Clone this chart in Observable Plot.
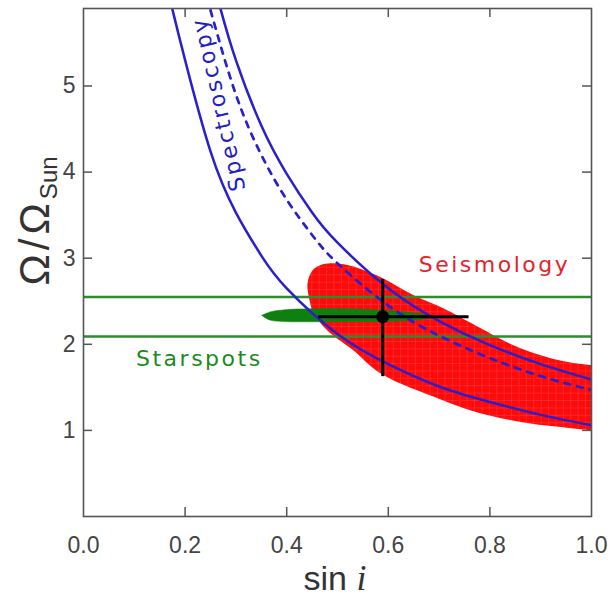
<!DOCTYPE html>
<html><head><meta charset="utf-8">
<script src="https://cdn.jsdelivr.net/npm/d3@7"></script>
<script src="https://cdn.jsdelivr.net/npm/@observablehq/plot@0.6"></script>
<style>body{margin:0;background:#fff;}</style>
</head><body><div id="chart"></div>
<script>
// ---- data ----
const xTicks = [0.0, 0.2, 0.4, 0.6, 0.8, 1.0];
const xTickLabels = ["0.0", "0.2", "0.4", "0.6", "0.8", "1.0"];
const yTicks = [1, 2, 3, 4, 5];
const yTickLabels = ["1", "2", "3", "4", "5"];

// Spectroscopy: upper bound, best value (dashed), lower bound
const specUpperSinI = [0.27, 0.30, 0.35, 0.40, 0.45, 0.50, 0.60, 0.70, 0.80, 0.90, 1.00];
const specUpperOmega = [5.89, 5.30, 4.54, 3.98, 3.53, 3.18, 2.65, 2.27, 1.99, 1.77, 1.59];
const specMidSinI = [0.25, 0.30, 0.35, 0.40, 0.45, 0.50, 0.60, 0.70, 0.80, 0.90, 1.00];
const specMidOmega = [5.88, 4.90, 4.20, 3.68, 3.27, 2.94, 2.45, 2.10, 1.84, 1.63, 1.47];
const specLowerSinI = [0.175, 0.20, 0.25, 0.30, 0.35, 0.40, 0.50, 0.60, 0.70, 0.80, 0.90, 1.00];
const specLowerOmega = [5.89, 5.30, 4.24, 3.53, 3.03, 2.65, 2.12, 1.77, 1.51, 1.33, 1.18, 1.06];

// Starspots band
const spotLow = 2.09, spotHigh = 2.55;
// Starspots joint region (green blob): x, bottom edge, top edge
const blobSinI = [0.352, 0.368, 0.398, 0.447, 0.526, 0.604, 0.663, 0.693];
const blobOmegaLow = [2.33, 2.275, 2.258, 2.256, 2.256, 2.262, 2.28, 2.31];
const blobOmegaHigh = [2.33, 2.37, 2.395, 2.407, 2.407, 2.384, 2.35, 2.31];

// Seismology region (red), outline from bottom-right corner, along bottom, round left, along top
const seisSinI = [1.0, 0.940, 0.880, 0.781, 0.703, 0.585, 0.531, 0.480, 0.453, 0.445,
                  0.441, 0.451, 0.467, 0.486, 0.520, 0.585, 0.650, 0.708, 0.781, 0.846, 0.913, 0.959, 1.0];
const seisOmega = [1.00, 1.04, 1.08, 1.20, 1.36, 1.66, 1.93, 2.16, 2.36, 2.51,
                   2.71, 2.86, 2.92, 2.94, 2.92, 2.78, 2.57, 2.42, 2.19, 1.99, 1.85, 1.79, 1.76];

// Combined estimate with error bars
const bestSinI = 0.589, bestSinILo = 0.462, bestSinIHi = 0.758;
const bestOmega = 2.32, bestOmegaLo = 1.63, bestOmegaHi = 2.76;

// Labels
const labelNames = ["Spectroscopy", "Seismology", "Starspots"];
const labelSinI = [0.266, 0.809, 0.228];
const labelOmega = [4.79, 2.92, 1.83];

// ---- build tables ----
const zip = (xs, ys) => xs.map((x, i) => ({s: x, o: ys[i]}));
const specUpper = zip(specUpperSinI, specUpperOmega);
const specMid = zip(specMidSinI, specMidOmega);
const specLower = zip(specLowerSinI, specLowerOmega);
const blob = blobSinI.map((s, i) => ({s, lo: blobOmegaLow[i], hi: blobOmegaHigh[i]}));
const seis = zip(seisSinI, seisOmega);
const best = [{s: bestSinI, slo: bestSinILo, shi: bestSinIHi, o: bestOmega, olo: bestOmegaLo, ohi: bestOmegaHi}];
const labels = labelNames.map((t, i) => ({t, s: labelSinI[i], o: labelOmega[i]}));

const W = 611, H = 602;
const mL = 83, mR = 20, mT = 8, mB = 86;
const fw = W - mL - mR, fh = H - mT - mB;
const axisCol = "#555";
const blue = "#2a1fcc";
const redFill = "#ff0a0a";
const blobFill = "#0f7f0f";

const plot = Plot.plot({
  width: W, height: H,
  marginLeft: mL, marginRight: mR, marginTop: mT, marginBottom: mB,
  x: {domain: [0, 1], axis: null},
  y: {domain: [0, 5.9], axis: null},
  style: {background: "white", fontFamily: "Liberation Sans, sans-serif", overflow: "visible"},
  marks: [
    Plot.line(seis, {x: "s", y: "o", fill: redFill, stroke: "none", curve: "catmull-rom", clip: true}),
    Plot.ruleY([spotLow, spotHigh], {stroke: "#2e8b2e", strokeWidth: 2.4}),
    Plot.areaY(blob, {x: "s", y1: "lo", y2: "hi", fill: blobFill, stroke: blobFill, strokeWidth: 0.5, curve: "catmull-rom"}),
    Plot.line(specUpper, {x: "s", y: "o", stroke: blue, strokeWidth: 2.5, curve: "natural", clip: true}),
    Plot.line(specMid, {x: "s", y: "o", stroke: blue, strokeWidth: 2.7, strokeDasharray: "6,7", curve: "natural", clip: true}),
    Plot.line(specLower, {x: "s", y: "o", stroke: blue, strokeWidth: 2.5, curve: "natural", clip: true}),
    Plot.link(best, {x1: "slo", x2: "shi", y1: "o", y2: "o", stroke: "black", strokeWidth: 3}),
    Plot.link(best, {x1: "s", x2: "s", y1: "olo", y2: "ohi", stroke: "black", strokeWidth: 3}),
    Plot.dot(best, {x: "s", y: "o", r: 6.5, fill: "black", stroke: "none"}),
    // labels
    Plot.text(labels.slice(0, 1), {x: "s", y: "o", text: "t", rotate: -103, fill: "#2020c8", fontSize: 22, fontFamily: "DejaVu Sans"}),
    Plot.text(labels.slice(1, 2), {x: "s", y: "o", text: "t", fill: "#e8202c", fontSize: 22, fontFamily: "DejaVu Sans"}),
    Plot.text(labels.slice(2, 3), {x: "s", y: "o", text: "t", fill: "#1e8a1e", fontSize: 22, fontFamily: "DejaVu Sans"}),
    // frame and inward ticks on all sides
    Plot.frame({stroke: axisCol, strokeWidth: 1.6}),
    Plot.ruleX(xTicks.slice(1, -1), {insetTop: fh - 9, stroke: axisCol, strokeWidth: 1.5}),
    Plot.ruleX(xTicks.slice(1, -1), {insetBottom: fh - 9, stroke: axisCol, strokeWidth: 1.5}),
    Plot.ruleY(yTicks, {insetRight: fw - 9, stroke: axisCol, strokeWidth: 1.5}),
    Plot.ruleY(yTicks, {insetLeft: fw - 9, stroke: axisCol, strokeWidth: 1.5}),
    // tick labels
    Plot.text(xTicks, {x: d => d, frameAnchor: "bottom", dy: 29, text: (d, i) => xTickLabels[i], fontSize: 23, fill: "#444", lineAnchor: "middle"}),
    Plot.text(yTicks, {y: d => d, frameAnchor: "left", dx: -8, textAnchor: "end", text: (d, i) => yTickLabels[i], fontSize: 23, fill: "#444", lineAnchor: "middle"})
  ]
});

const svg = d3.select(plot);
// subtle grid texture in the seismology region
const redG = svg.select(`g[fill="${redFill}"]`);
redG.attr("fill", "url(#redgrid)");
svg.insert("defs", ":first-child").html(
  `<pattern id="redgrid" patternUnits="userSpaceOnUse" width="7.4" height="7.4">
     <rect width="7.4" height="7.4" fill="${redFill}"/>
     <path d="M0 0.3H7.4M0.3 0V7.4" stroke="#ff6060" stroke-width="0.7" stroke-opacity="0.5"/>
   </pattern>`);
// wider letter spacing for the annotation labels
svg.selectAll("text").filter(function() { return labelNames.includes(this.textContent); })
  .attr("letter-spacing", "2.5px");

// axis titles
const yt = svg.append("text")
  .attr("transform", "translate(49,221) rotate(-90)")
  .attr("text-anchor", "middle")
  .attr("fill", "#333")
  .attr("font-family", "Liberation Sans, sans-serif");
yt.append("tspan").attr("font-size", 42).attr("letter-spacing", "4px").text("Ω/Ω");
yt.append("tspan").attr("font-size", 24).attr("dy", 8).text("Sun");

const xt = svg.append("text")
  .attr("x", 335).attr("y", 590)
  .attr("text-anchor", "middle")
  .attr("fill", "#333");
xt.append("tspan").attr("font-family", "Liberation Sans, sans-serif").attr("font-size", 34).text("sin ");
xt.append("tspan").attr("font-family", "Liberation Serif, serif").attr("font-style", "italic").attr("font-size", 36).text("i");

document.getElementById("chart").appendChild(plot);
</script>
</body></html>
